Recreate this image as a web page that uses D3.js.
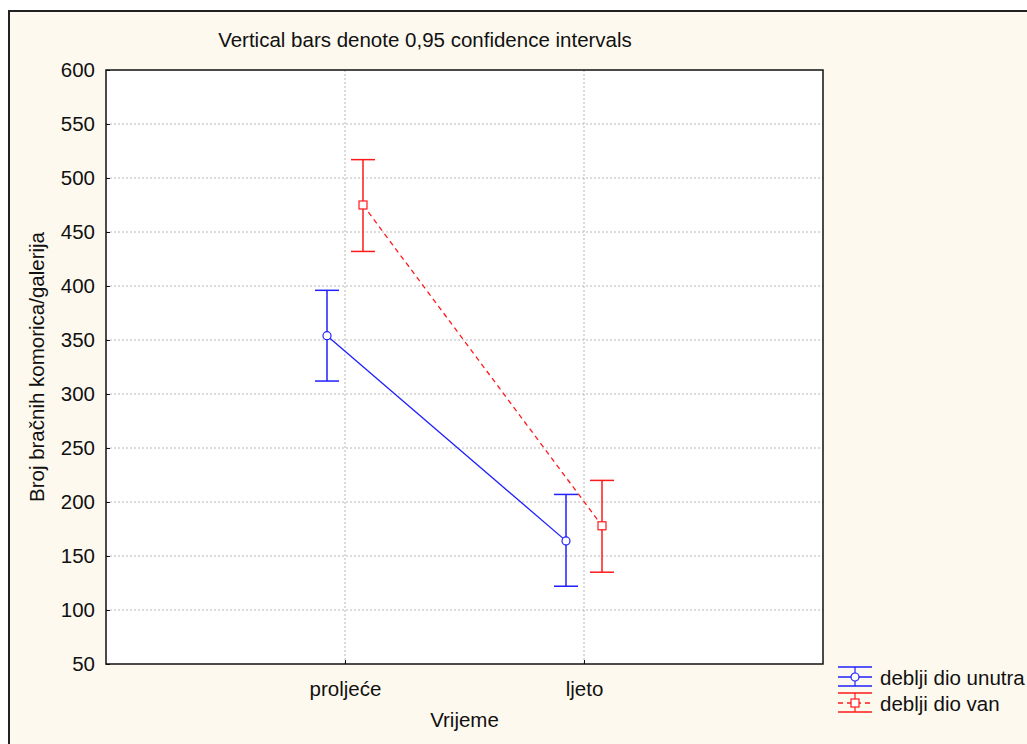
<!DOCTYPE html>
<html>
<head>
<meta charset="utf-8">
<script src="https://cdn.jsdelivr.net/npm/d3@7"></script>
<style>
  body { margin: 0; background: #ffffff; }
  text { font-family: "Liberation Sans", Arial, sans-serif; fill: #111; }
</style>
</head>
<body>
<div id="chart"></div>
<script>
// data
var categories = ["proljeće", "ljeto"];
var seriesNames = ["deblji dio unutra", "deblji dio van"];
var meanUnutra = [354, 164];
var lowUnutra = [312, 122];
var highUnutra = [396, 207];
var meanVan = [475, 178];
var lowVan = [432, 135];
var highVan = [517, 220];
var yTicks = [50, 100, 150, 200, 250, 300, 350, 400, 450, 500, 550, 600];

var W = 1027, H = 744;
var margin = { top: 70, right: 204, bottom: 80, left: 106 },
    width = 823 - margin.left,
    height = 664 - margin.top;
var fs = "20.5px";

var svg = d3.select("#chart")
    .append("svg")
    .attr("width", W)
    .attr("height", H);

// cream panel with a frame
svg.append("rect")
    .attr("x", 9).attr("y", 11)
    .attr("width", W + 10).attr("height", H + 10)
    .attr("fill", "#fef9ef")
    .attr("stroke", "#222")
    .attr("stroke-width", 2);

var g = svg.append("g")
    .attr("transform", "translate(" + margin.left + "," + margin.top + ")");

g.append("rect")
    .attr("width", width).attr("height", height)
    .attr("fill", "#ffffff");

var x = d3.scalePoint()
    .domain(categories)
    .range([0, width])
    .padding(1);

var y = d3.scaleLinear()
    .domain([50, 600])
    .range([height, 0]);

// grid
g.selectAll(".hgrid")
    .data(yTicks.slice(1, -1))
    .enter().append("line")
    .attr("x1", 0).attr("x2", width)
    .attr("y1", function(d) { return y(d); })
    .attr("y2", function(d) { return y(d); })
    .attr("stroke", "#b8b8b8")
    .attr("stroke-dasharray", "2,2");

g.selectAll(".vgrid")
    .data(categories)
    .enter().append("line")
    .attr("x1", function(d) { return x(d); })
    .attr("x2", function(d) { return x(d); })
    .attr("y1", 0).attr("y2", height)
    .attr("stroke", "#b8b8b8")
    .attr("stroke-dasharray", "2,2");

// axes
var yAxis = g.append("g")
    .call(d3.axisLeft(y).tickValues(yTicks).tickSize(-4).tickPadding(11));
yAxis.select(".domain").remove();
yAxis.selectAll("text").style("font-size", fs).attr("fill", "#111");
yAxis.selectAll("line").attr("stroke", "#111");

var xAxis = g.append("g")
    .attr("transform", "translate(0," + height + ")")
    .call(d3.axisBottom(x).tickSize(-4).tickPadding(17));
xAxis.select(".domain").remove();
xAxis.selectAll("text").style("font-size", fs).attr("fill", "#111");
xAxis.selectAll("line").attr("stroke", "#111");

g.append("rect")
    .attr("width", width).attr("height", height)
    .attr("fill", "none")
    .attr("stroke", "#111")
    .attr("stroke-width", 1.5);

// labels
svg.append("text")
    .attr("x", 425).attr("y", 47)
    .attr("text-anchor", "middle")
    .style("font-size", fs)
    .text("Vertical bars denote 0,95 confidence intervals");

svg.append("text")
    .attr("transform", "translate(44," + (margin.top + height / 2) + ") rotate(-90)")
    .attr("text-anchor", "middle")
    .style("font-size", fs)
    .text("Broj bračnih komorica/galerija");

svg.append("text")
    .attr("x", margin.left + width / 2).attr("y", 727)
    .attr("text-anchor", "middle")
    .style("font-size", fs)
    .text("Vrijeme");

// series
var series = [
    { name: seriesNames[0], mean: meanUnutra, low: lowUnutra, high: highUnutra, color: "#1f1fff", dash: null, shape: "circle", off: -18 },
    { name: seriesNames[1], mean: meanVan, low: lowVan, high: highVan, color: "#ff1a1a", dash: "5,4", shape: "square", off: 18 }
];

var capW = 12;

series.forEach(function(s) {
    var pts = categories.map(function(c, i) {
        return { x: x(c) + s.off, m: s.mean[i], lo: s.low[i], hi: s.high[i] };
    });

    g.append("path")
        .datum(pts)
        .attr("fill", "none")
        .attr("stroke", s.color)
        .attr("stroke-width", 1.3)
        .attr("stroke-dasharray", s.dash)
        .attr("d", d3.line().x(function(d) { return d.x; }).y(function(d) { return y(d.m); }));

    var eb = g.selectAll(null).data(pts).enter().append("g");
    eb.append("line")
        .attr("x1", function(d) { return d.x; }).attr("x2", function(d) { return d.x; })
        .attr("y1", function(d) { return y(d.lo); }).attr("y2", function(d) { return y(d.hi); })
        .attr("stroke", s.color).attr("stroke-width", 1.5);
    eb.append("line")
        .attr("x1", function(d) { return d.x - capW; }).attr("x2", function(d) { return d.x + capW; })
        .attr("y1", function(d) { return y(d.hi); }).attr("y2", function(d) { return y(d.hi); })
        .attr("stroke", s.color).attr("stroke-width", 1.5);
    eb.append("line")
        .attr("x1", function(d) { return d.x - capW; }).attr("x2", function(d) { return d.x + capW; })
        .attr("y1", function(d) { return y(d.lo); }).attr("y2", function(d) { return y(d.lo); })
        .attr("stroke", s.color).attr("stroke-width", 1.5);

    if (s.shape === "circle") {
        eb.append("circle")
            .attr("cx", function(d) { return d.x; })
            .attr("cy", function(d) { return y(d.m); })
            .attr("r", 4)
            .attr("fill", "#fff").attr("stroke", s.color).attr("stroke-width", 1.2);
    } else {
        eb.append("rect")
            .attr("x", function(d) { return d.x - 4; })
            .attr("y", function(d) { return y(d.m) - 4; })
            .attr("width", 8).attr("height", 8)
            .attr("fill", "#fff").attr("stroke", s.color).attr("stroke-width", 1.2);
    }
});

// legend
var leg = svg.append("g").attr("transform", "translate(838,667)");
series.forEach(function(s, i) {
    var lg = leg.append("g").attr("transform", "translate(0," + (i * 26) + ")");
    var cx = 17;
    lg.append("line").attr("x1", 0).attr("x2", 34).attr("y1", 0).attr("y2", 0)
        .attr("stroke", s.color).attr("stroke-width", 1.5);
    lg.append("line").attr("x1", 0).attr("x2", 34).attr("y1", 19).attr("y2", 19)
        .attr("stroke", s.color).attr("stroke-width", 1.5);
    lg.append("line").attr("x1", cx).attr("x2", cx).attr("y1", 0).attr("y2", 19)
        .attr("stroke", s.color).attr("stroke-width", 1.2);
    lg.append("line").attr("x1", 0).attr("x2", 34).attr("y1", 10).attr("y2", 10)
        .attr("stroke", s.color).attr("stroke-width", 1.3)
        .attr("stroke-dasharray", s.dash);
    if (s.shape === "circle") {
        lg.append("circle").attr("cx", cx).attr("cy", 10).attr("r", 4)
            .attr("fill", "#fff").attr("stroke", s.color).attr("stroke-width", 1.2);
    } else {
        lg.append("rect").attr("x", cx - 4).attr("y", 6).attr("width", 8).attr("height", 8)
            .attr("fill", "#fff").attr("stroke", s.color).attr("stroke-width", 1.2);
    }
    lg.append("text").attr("x", 42).attr("y", 18)
        .style("font-size", fs)
        .text(s.name);
});
</script>
</body>
</html>
